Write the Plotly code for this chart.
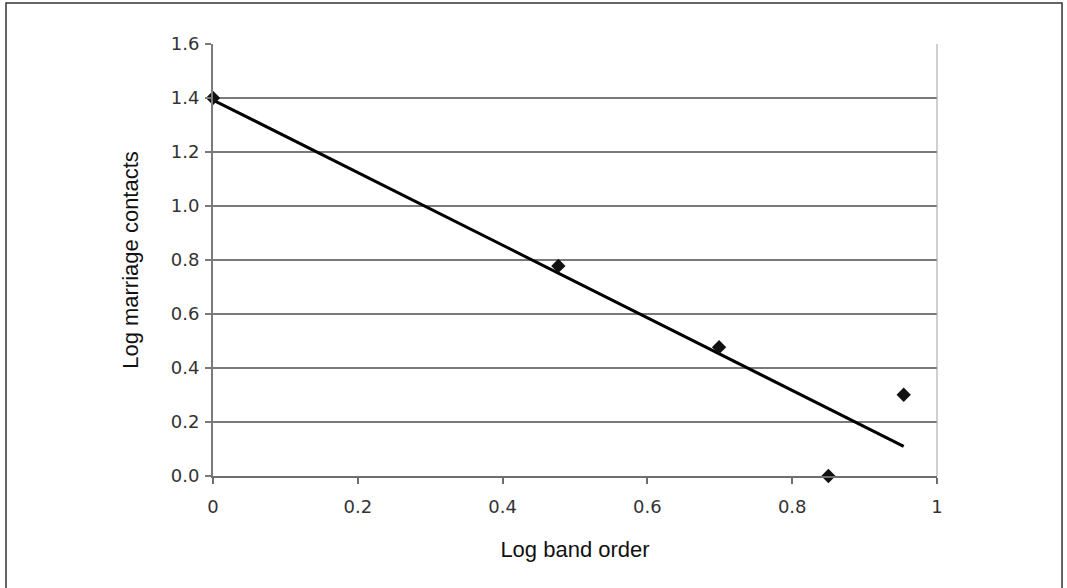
import numpy as np
import plotly.graph_objects as go

# Data
log_band_order = [0.0, 0.477, 0.699, 0.85, 0.954]
log_marriage_contacts = [1.40, 0.778, 0.477, 0.0, 0.301]
x_ticks = [0, 0.2, 0.4, 0.6, 0.8, 1]
x_tick_labels = ["0", "0.2", "0.4", "0.6", "0.8", "1"]
y_ticks = [0.0, 0.2, 0.4, 0.6, 0.8, 1.0, 1.2, 1.4, 1.6]
y_tick_labels = ["0.0", "0.2", "0.4", "0.6", "0.8", "1.0", "1.2", "1.4", "1.6"]

# Linear trendline (least squares fit of the data)
slope, intercept = np.polyfit(log_band_order, log_marriage_contacts, 1)
trend_x = [min(log_band_order), max(log_band_order)]
trend_y = [intercept + slope * v for v in trend_x]

FONT = "Liberation Sans, Arial, sans-serif"
TICKFONT = "DejaVu Sans, Liberation Sans, sans-serif"

fig = go.Figure()
fig.add_trace(go.Scatter(
    x=trend_x, y=trend_y, mode="lines",
    line=dict(color="black", width=3),
    showlegend=False, hoverinfo="skip", cliponaxis=False,
))
fig.add_trace(go.Scatter(
    x=log_band_order, y=log_marriage_contacts, mode="markers",
    marker=dict(symbol="diamond", size=11, color="#111111"),
    showlegend=False, cliponaxis=False,
))

fig.update_layout(
    width=1067, height=588,
    margin=dict(l=213, r=130, t=44, b=112),
    paper_bgcolor="white", plot_bgcolor="white",
    font=dict(family=FONT, color="#222222", size=18),
    xaxis=dict(
        range=[0, 1], tickvals=x_ticks, ticktext=x_tick_labels,
        showgrid=False, zeroline=False,
        showline=True, linecolor="#6e6e6e", linewidth=2,
        ticks="outside", ticklen=6, tickcolor="#6e6e6e", tickwidth=1.5,
        ticklabelstandoff=7,
        tickfont=dict(family=TICKFONT, size=18, color="#333333"),
        title=dict(text="Log band order", font=dict(size=22, color="#111111"), standoff=26),
    ),
    yaxis=dict(
        range=[0, 1.6], tickvals=y_ticks, ticktext=y_tick_labels,
        showgrid=True, gridcolor="#7a7a7a", gridwidth=2,
        zeroline=False,
        showline=True, linecolor="#7a7a7a", linewidth=2,
        ticks="outside", ticklen=6, tickcolor="#7a7a7a", tickwidth=1.5,
        ticklabelstandoff=2,
        tickfont=dict(family=TICKFONT, size=18, color="#333333"),
        title=dict(text="Log marriage contacts", font=dict(size=22, color="#111111"), standoff=26),
    ),
    shapes=[
        # right border of plot area
        dict(type="line", xref="paper", yref="paper", x0=1, x1=1, y0=0, y1=1,
             line=dict(color="#a0a0a0", width=1)),
        # outer frame
        dict(type="rect", xref="paper", yref="paper",
             x0=-0.2859, x1=1.1727, y0=-0.30, y1=1.0949,
             line=dict(color="#333333", width=1.5), fillcolor="rgba(0,0,0,0)", layer="below"),
    ],
)

fig.write_html("out.html", config={"displayModeBar": False},
               post_script="document.body.style.margin='0';")
